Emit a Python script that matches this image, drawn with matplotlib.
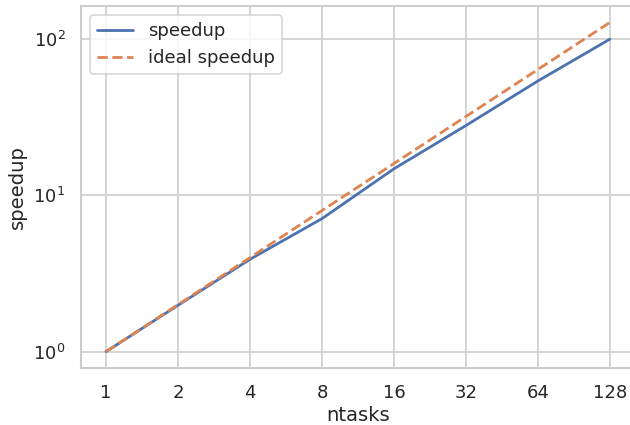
import matplotlib
matplotlib.use("Agg")
import matplotlib.pyplot as plt
import matplotlib.ticker as mticker
import numpy as np
import seaborn as sns

sns.set_theme(style="whitegrid")

ntasks = [1, 2, 4, 8, 16, 32, 64, 128]
speedup = [1.0, 1.98, 3.9, 7.1, 14.8, 28.0, 54.0, 100.0]
ideal = [1, 2, 4, 8, 16, 32, 64, 128]

# drawn at a higher dpi so fonts and lines come out a bit bigger
dpi = 118
fig = plt.figure(figsize=(630 / dpi, 425 / dpi), dpi=dpi)
ax = fig.add_axes([81 / 630, 1 - 368 / 425, 554 / 630, 362 / 425])
ax.plot(ntasks, speedup, label="speedup", lw=1.7)
ax.plot(ntasks, ideal, "--", label="ideal speedup", lw=1.7)

ax.set_xscale("log", base=2)
ax.set_yscale("log")
ax.xaxis.set_major_locator(mticker.FixedLocator(ntasks))
ax.xaxis.set_major_formatter(mticker.FixedFormatter([str(n) for n in ntasks]))
ax.xaxis.set_minor_locator(mticker.NullLocator())
ax.set_xlabel("ntasks", labelpad=2.5)
ax.set_ylabel("speedup")
ax.legend(loc="upper left")

fig.savefig("out.png")
